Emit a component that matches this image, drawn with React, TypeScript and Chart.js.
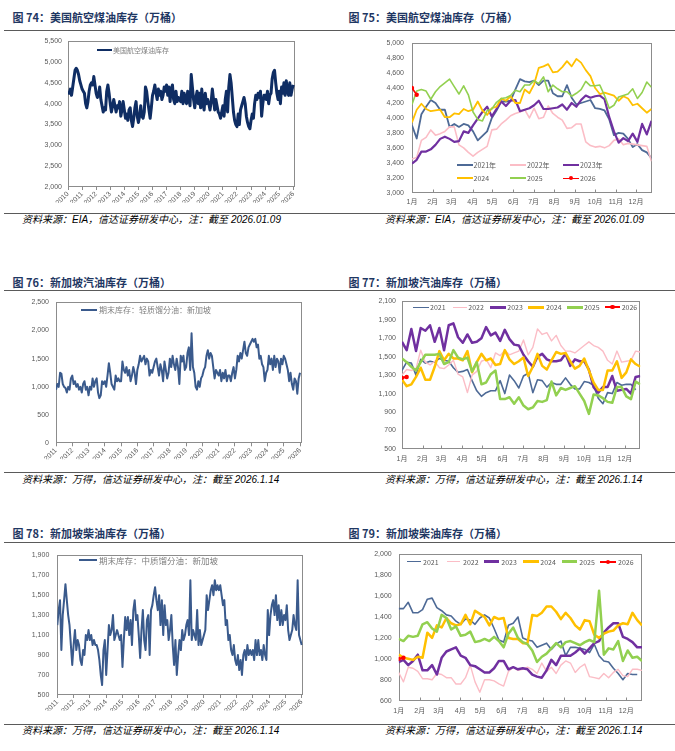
import React, { useEffect, useRef } from 'react';
import { Chart, registerables } from 'chart.js';

Chart.register(...registerables);

const SANS = '"Liberation Sans", Arial, "Noto Sans CJK SC", sans-serif';
const CJK = '"Noto Sans CJK SC", "Liberation Sans", sans-serif';
const TICK_COLOR = '#595959';
const FRAME_COLOR = '#8c8c8c';

// ---------------- tick labels ----------------
const yearTicksJet = [2010, 2011, 2012, 2013, 2014, 2015, 2016, 2017, 2018, 2019, 2020, 2021, 2022, 2023, 2024, 2025, 2026];
const yearTicksSg = [2011, 2012, 2013, 2014, 2015, 2016, 2017, 2018, 2019, 2020, 2021, 2022, 2023, 2024, 2025, 2026];
const monthLabels = ['1月', '2月', '3月', '4月', '5月', '6月', '7月', '8月', '9月', '10月', '11月', '12月'];
const monthStartWeeks = [0, 4.4, 8.4, 12.9, 17.1, 21.6, 25.9, 30.3, 34.7, 39, 43.4, 47.7];

// ---------------- 图74: 美国航空煤油库存, monthly from 2010-01 ----------------
const jetHistStart = 2010;
const jetHist = [
  4300, 4250, 4350, 4200, 4400, 4600, 4800, 4850, 4800, 4700, 4550, 4450,
  4350, 4300, 4250, 4000, 3900, 4050, 4300, 4450, 4500, 4450, 4650, 4450,
  4250, 4150, 4200, 4400, 4100, 3950, 3800, 3900, 3850, 4300, 4450, 4250,
  4000, 3800, 3950, 4100, 3950, 3800, 3950, 3900, 4050, 3700, 3850, 4050,
  3850, 3650, 3750, 3600, 3850, 3900, 3600, 3450, 3650, 3900, 4050, 3700,
  3550, 3700, 3950, 3700, 3650, 3800, 4400, 4300, 4050, 3850, 3650, 3900,
  4200, 4300, 4450, 4250, 4100, 4350, 4200, 4300, 4100, 4200, 4400, 4300,
  4450, 4200, 4400, 4050, 4350, 4450, 4100, 4000, 4300, 4050, 4150, 4100,
  4050, 4300, 4000, 4250, 4100, 4000, 4300, 4100, 3950, 4700, 4400, 4100,
  3900, 4150, 4300, 4000, 4250, 3900, 4350, 4000, 3850, 4250, 4000, 4100,
  4000, 3850, 4050, 4350, 4100, 3850, 4100, 3950, 3800, 3750, 3650, 3800,
  3950, 3700, 4100, 4300, 3800, 4400, 4700, 4500, 4150, 3800, 3600, 3500,
  3450, 3750, 3500, 3850, 3950, 4050, 4150, 4000, 3700, 3550, 3450, 3400,
  3600, 3750, 3650, 4000, 4200, 4100, 4250, 4150, 4300, 3700, 4000, 4200,
  4200, 4100, 4300, 4000, 4200, 4250, 4600, 4750, 4800, 4500, 4250, 4100,
  4300, 4000, 4400, 4250, 4500, 4200, 4550, 4300, 4200, 4500, 4200, 4350,
  4450,
];

// ---------------- 图75: 美国航空煤油库存 seasonal (weekly) ----------------
const jet2021 = [3900, 3725, 4050, 4150, 4240, 4200, 4110, 4110, 3880, 3920, 3880, 3920, 3900, 3820, 3700, 3760, 3820, 4000, 4100, 4220, 4220, 4230, 4380, 4520, 4490, 4480, 4500, 4440, 4500, 4500, 4330, 4290, 4290, 4440, 4270, 4180, 4200, 4220, 4240, 4130, 4120, 4100, 3980, 3770, 3800, 3790, 3720, 3610, 3650, 3570, 3540, 3460];
const jet2022 = [3450, 3470, 3700, 3740, 3840, 3770, 3790, 3820, 3880, 3880, 3640, 3600, 3540, 3490, 3540, 3580, 3620, 3840, 3850, 3920, 3970, 4030, 4060, 4080, 4110, 4000, 4130, 3990, 4010, 4160, 4060, 4010, 3970, 3860, 3870, 3920, 3920, 3680, 3630, 3610, 3620, 3600, 3630, 3700, 3720, 3640, 3660, 3650, 3640, 3630, 3620, 3420];
const jet2023 = [3390, 3440, 3550, 3550, 3580, 3640, 3720, 3750, 3720, 3680, 3690, 3820, 3800, 3900, 3990, 4080, 4150, 4020, 4120, 4220, 4160, 4230, 4240, 4090, 4110, 4130, 4170, 4230, 4120, 4120, 4130, 4140, 4180, 4110, 4200, 4150, 4240, 4300, 4270, 4290, 4300, 4250, 4010, 3820, 3670, 3730, 3690, 3790, 3680, 3920, 3780, 3960];
const jet2024 = [3940, 4110, 4190, 4120, 4090, 4100, 4110, 4010, 4010, 4060, 4050, 4120, 4090, 4110, 4220, 4100, 4040, 4130, 4150, 4260, 4230, 4290, 4200, 4200, 4380, 4330, 4450, 4670, 4690, 4720, 4610, 4620, 4680, 4760, 4690, 4790, 4740, 4640, 4560, 4400, 4320, 4340, 4320, 4300, 4230, 4290, 4260, 4170, 4190, 4130, 4070, 4120];
const jet2025 = [4180, 4360, 4380, 4360, 4250, 4350, 4420, 4470, 4520, 4420, 4320, 4430, 4310, 4080, 3980, 3960, 4100, 4120, 4210, 4260, 4270, 4300, 4370, 4350, 4440, 4440, 4500, 4460, 4550, 4350, 4440, 4390, 4350, 4350, 4290, 4330, 4380, 4490, 4430, 4430, 4440, 4300, 4130, 4170, 4280, 4300, 4320, 4390, 4260, 4340, 4480, 4410];
const jet2026 = [4400, 4310];

// ---------------- 图76: 新加坡汽油库存, monthly from 2011-01 ----------------
const gasHistStart = 2011;
const gasHist = [
  950, 1050, 1000, 1250, 1230, 1050, 1000, 980, 900, 1000, 950, 1150,
  1200, 1050, 1100, 1000, 1050, 950, 1000, 900, 1050, 1100, 950, 1000,
  850, 1000, 950, 1150, 1000, 1100, 1150, 900, 800, 850, 1100, 1050,
  1100, 1000, 1200, 1420, 1250, 1050, 1000, 950, 1200, 1100, 1150, 1100,
  1100, 1450, 1300, 1250, 1350, 1200, 1300, 1100, 1200, 1350, 1250, 1050,
  1300, 1400, 1550, 1450, 1500, 1550, 1400, 1500, 1450, 1200, 1300, 1250,
  1350, 1450, 1500, 1350, 1200, 1400, 1300, 1100, 1450, 1300, 1150, 1250,
  1500, 1350, 1550, 1400, 1300, 1500, 1350, 1050, 1550, 1450, 1550, 1300,
  1350, 1600, 1700, 1300, 1950, 1350, 1250, 1000, 950, 1100, 1000, 1150,
  1200, 1300, 1350, 1550, 1650, 1500, 1600, 1550, 1350, 1150, 1300, 1250,
  1200, 1300, 1100, 1250, 1150, 1300, 1100, 1200, 1200, 1100, 1250, 1350,
  1150, 1300, 1550, 1450, 1600, 1500, 1650, 1800, 1600, 1550, 1700, 1750,
  1800, 1850, 1800, 1850, 1700, 1750, 1500, 1550, 1400, 1350, 1100, 1250,
  1300, 1550, 1400, 1500, 1300, 1550, 1350, 1500, 1450, 1250, 1500, 1400,
  1550, 1500, 1400, 1300, 1100, 1250, 1050, 950, 1150, 1100, 880, 1150,
  1250,
];

// ---------------- 图77: 新加坡汽油库存 seasonal (weekly) ----------------
const gas2021 = [1350, 1440, 1430, 1300, 1470, 1430, 1450, 1440, 1480, 1460, 1450, 1380, 1330, 1340, 1360, 1240, 1130, 1070, 1110, 1130, 1130, 1240, 1100, 1300, 1240, 1160, 1290, 1320, 1110, 1250, 1240, 1170, 1220, 1200, 1200, 1270, 1200, 1150, 1150, 1230, 1220, 1190, 1050, 990, 1110, 1100, 1220, 1190, 1200, 1200, 1140, null];
const gas2022 = [1300, 1360, 1350, 1370, 1570, 1440, 1410, 1450, 1380, 1370, 1410, 1460, 1310, 1280, 1110, 1300, 1340, 1450, 1470, 1380, 1540, 1510, 1570, 1520, 1540, 1560, 1680, 1520, 1600, 1800, 1740, 1760, 1670, 1730, 1620, 1560, 1560, 1540, 1580, 1620, 1660, 1620, 1600, 1560, 1460, 1420, 1560, 1440, 1450, 1460, 1560, 1550];
const gas2023 = [1660, 1570, 1800, 1560, 1810, 1780, 1840, 1660, 1810, 1570, 1840, 1860, 1710, 1650, 1740, 1650, 1660, 1700, 1820, 1730, 1760, 1670, 1790, 1690, 1630, 1620, 1520, 1450, 1390, 1500, 1530, 1470, 1450, 1450, 1460, 1530, 1400, 1470, 1450, 1450, 1360, 1170, 1110, 1170, 1170, 1290, 1130, 1140, 1150, 1100, 1280, 1290];
const gas2024 = [1250, 1180, 1200, 1280, 1380, 1250, 1250, 1390, 1560, 1460, 1530, 1480, 1480, 1460, 1560, 1330, 1440, 1530, 1460, 1480, 1410, 1420, 1570, 1470, 1420, 1450, 1490, 1290, 1390, 1530, 1400, 1360, 1460, 1550, 1530, 1540, 1450, 1370, 1400, 1480, 1350, 1220, 1140, 1140, 1350, 1350, 1450, 1270, 1330, 1470, 1420, 1390];
const gas2025 = [1480, 1440, 1390, 1350, 1440, 1520, 1520, 1520, 1530, 1420, 1440, 1570, 1490, 1470, 1490, 1340, 1440, 1200, 1220, 1310, 1350, 1040, 1040, 1060, 990, 1060, 970, 930, 950, 1020, 1010, 1030, 1230, 1080, 1160, 1140, 1160, 1180, 1100, 1020, 880, 1090, 1080, 1050, 1010, 1000, 1170, 1170, 1070, 1040, 1230, 1200];
const gas2026 = [1270, 1280];

// ---------------- 图78: 新加坡柴油库存, monthly from 2011-01 ----------------
const dslHistStart = 2011;
const dslHist = [
  1200, 1350, 1450, 950, 1300, 1450, 1610, 1450, 1300, 1200, 1000, 800,
  1000, 1150, 950, 1050, 1000, 850, 800, 950, 900, 1100, 1050, 1150,
  1050, 1100, 1000, 1050, 1000, 1000, 950, 850, 700, 600, 950, 1050,
  700, 950, 1200, 1100, 1150, 1300, 1050, 1100, 1150, 1100, 1050, 1100,
  780, 1050, 1280, 1150, 1280, 1100, 1250, 1000, 1350, 1450, 1250, 1300,
  1100, 870, 1150, 1350, 1050, 950, 1250, 1300, 900, 1350, 1400, 1500,
  1580, 1450, 1350, 1500, 1200, 1450, 1100, 1400, 1200, 1250, 1050, 1150,
  1300, 1000, 800, 1050, 700, 900, 1050, 950, 1150, 1050, 1100, 1200,
  1250, 1100, 1650, 1050, 1150, 1100, 1050, 1350, 1000, 1150, 1000, 1050,
  1100, 1150, 1500, 1350, 1450, 1550, 1600, 1500, 1650, 1550, 1600, 1550,
  1600, 1500, 1400, 1450, 1200, 1250, 1050, 1100, 950, 900, 1000, 850,
  800, 900, 750, 850, 700, 900, 950, 850, 1000, 900, 950, 900,
  950, 850, 1050, 900, 1050, 900, 950, 850, 1000, 900, 850, 1350,
  1100, 1300, 1400, 1450, 1300, 1500, 1250, 1400, 1200, 1350, 1200, 1300,
  1250, 1400, 1150, 1050, 1100, 1150, 1300, 1200, 1150, 1650, 1100, 1050,
  1000,
];

// ---------------- 图79: 新加坡柴油库存 seasonal (weekly) ----------------
const dsl2021 = [1480, 1480, 1540, 1440, 1440, 1470, 1570, 1580, 1490, 1460, 1420, 1410, 1360, 1330, 1380, 1370, 1330, 1390, 1420, 1390, 1290, 1180, 1160, 1320, 1340, 1400, 1200, 1180, 1170, 1110, 1130, 1150, 1090, 1140, 1170, 1030, 1110, 1110, 1100, 1090, 1060, 1140, 1030, 980, 970, 910, 860, 800, 860, 850, 850, null];
const dsl2022 = [870, 780, 920, 910, 880, 810, 810, 800, 860, 850, 820, 820, 760, 760, 820, 940, 780, 680, 800, 800, 790, 760, 740, 880, 920, 890, 900, 920, 900, 860, 960, 880, 920, 860, 940, 980, 960, 870, 920, 950, 830, 820, 810, 860, 820, 870, 900, 840, 830, 900, 900, 890];
const dsl2023 = [970, 990, 940, 980, 1040, 890, 890, 940, 850, 1010, 1070, 1090, 1110, 1030, 1010, 940, 930, 900, 870, 870, 910, 980, 980, 900, 920, 900, 910, 900, 850, 830, 820, 890, 990, 940, 1030, 1030, 1030, 1060, 1100, 1050, 1100, 1150, 1170, 1250, 1300, 1340, 1340, 1210, 1190, 1160, 1110, 1110];
const dsl2024 = [1040, 1010, 1000, 990, 1020, 1010, 1250, 1200, 1320, 1300, 1390, 1340, 1320, 1330, 1420, 1330, 1460, 1430, 1400, 1320, 1400, 1380, 1390, 1200, 1190, 1190, 1150, 1150, 1420, 1410, 1440, 1500, 1500, 1450, 1380, 1440, 1390, 1320, 1280, 1370, 1360, 1230, 1200, 1240, 1260, 1270, 1320, 1340, 1330, 1440, 1370, 1320];
const dsl2025 = [1190, 1170, 1220, 1210, 1220, 1330, 1350, 1290, 1260, 1420, 1390, 1280, 1310, 1220, 1230, 1260, 1160, 1170, 1190, 1170, 1210, 1170, 1110, 1240, 1300, 1200, 1160, 1140, 1080, 970, 1020, 1050, 1100, 1150, 1110, 1160, 1170, 1150, 1130, 1160, 1180, 1160, 1650, 1040, 1100, 1090, 1170, 980, 1080, 1010, 1020, 980];
const dsl2026 = [1000, 1010];

// ---------------- styles ----------------
const C2021 = '#4E6A96';
const C2022 = '#FBBDC6';
const C2023 = '#7030A0';
const C2024 = '#FFC000';
const C2025 = '#92D050';
const C2026 = '#FF0000';
const JET_LINE = '#0F2D63';
const SG_LINE = '#3A5A8C';

const weekly = (vals: (number | null)[]) => vals.map((v, i) => ({ x: i, y: v }));
const monthly = (vals: number[], start: number) => vals.map((v, i) => ({ x: start + i / 12, y: v }));

function seasonalSets(series: (number | null)[][], widths: number[]) {
  const colors = [C2021, C2022, C2023, C2024, C2025, C2026];
  return series.map((s, i) => ({
    data: weekly(s),
    borderColor: colors[i],
    backgroundColor: colors[i],
    borderWidth: widths[i],
    pointRadius: i === 5 ? 2.2 : 0,
    pointBorderWidth: 0,
    pointBackgroundColor: colors[i],
    order: 6 - i,
    spanGaps: false,
  }));
}

const framePlugin = {
  id: 'frame',
  beforeDatasetsDraw(chart: any, _args: any, opts: any) {
    const { ctx, chartArea: a } = chart;
    ctx.save();
    ctx.strokeStyle = opts.color || FRAME_COLOR;
    ctx.lineWidth = 1;
    const l = Math.round(a.left) + 0.5;
    const t = Math.round(a.top) + 0.5;
    const r = Math.round(a.right) - 0.5;
    const b = Math.round(a.bottom) - 0.5;
    ctx.strokeRect(l, t, r - l, b - t);
    const marks: number[] = opts.innerTicks || [];
    if (marks.length) {
      ctx.beginPath();
      marks.forEach((v) => {
        const px = Math.round(chart.scales.x.getPixelForValue(v)) + 0.5;
        ctx.moveTo(px, b);
        ctx.lineTo(px, b - 3);
      });
      ctx.stroke();
    }
    ctx.restore();
  },
};

type Spec = {
  box: number[];
  plot: number[];
  xMin: number;
  xMax: number;
  xTicks: number[];
  xLabels: string[];
  rotated: boolean;
  xPad: number;
  yMin: number;
  yMax: number;
  yStep: number;
  yPad: number;
  innerTicks?: number[];
  datasets: any[];
};

function makeConfig(s: Spec): any {
  const [cx, cy, cw, ch] = s.box;
  const [pl, pt, pr, pb] = s.plot;
  const YW = 36;
  const XH = 16;
  return {
    type: 'line',
    data: { datasets: s.datasets },
    options: {
      animation: false,
      responsive: false,
      maintainAspectRatio: false,
      layout: { padding: { left: pl - cx - YW, top: pt - cy, right: cx + cw - pr, bottom: cy + ch - pb - XH } },
      plugins: {
        legend: { display: false },
        tooltip: { enabled: false },
        frame: { color: FRAME_COLOR, innerTicks: s.innerTicks || [] },
      },
      elements: { line: { tension: 0, borderCapStyle: 'butt', borderJoinStyle: 'round' }, point: { radius: 0 } },
      scales: {
        x: {
          type: 'linear',
          min: s.xMin,
          max: s.xMax,
          afterFit: (sc: any) => { sc.height = XH; },
          afterBuildTicks: (sc: any) => { sc.ticks = s.xTicks.map((v) => ({ value: v })); },
          ticks: {
            autoSkip: false,
            maxRotation: s.rotated ? 45 : 0,
            minRotation: s.rotated ? 45 : 0,
            padding: s.xPad,
            color: TICK_COLOR,
            font: { family: SANS, size: 7 },
            callback: (_v: any, i: number) => s.xLabels[i],
          },
          grid: s.rotated
            ? { display: true, drawOnChartArea: false, drawTicks: true, tickLength: 3, color: FRAME_COLOR }
            : { display: false, drawTicks: false },
          border: { display: false },
        },
        y: {
          type: 'linear',
          min: s.yMin,
          max: s.yMax,
          afterFit: (sc: any) => { sc.width = YW; },
          ticks: {
            stepSize: s.yStep,
            padding: s.yPad,
            color: TICK_COLOR,
            font: { family: SANS, size: 7 },
            callback: (v: any) => Number(v).toLocaleString('en-US'),
          },
          grid: { display: false, drawTicks: false },
          border: { display: false },
        },
      },
    },
    plugins: [framePlugin],
  };
}

const specs: Spec[] = [
  {
    box: [0, 31, 337, 181], plot: [68, 41, 295, 187],
    xMin: 2010, xMax: 2026.12, xTicks: yearTicksJet, xLabels: yearTicksJet.map(String), rotated: true, xPad: 0,
    yMin: 2000, yMax: 5500, yStep: 500, yPad: 6,
    datasets: [{ data: monthly(jetHist, jetHistStart), borderColor: JET_LINE, borderWidth: 3, pointRadius: 0 }],
  },
  {
    box: [337, 31, 338, 181], plot: [412, 38.3, 651.5, 192.7],
    xMin: 0, xMax: 51, xTicks: monthStartWeeks, xLabels: monthLabels, rotated: false, xPad: 5,
    yMin: 3000, yMax: 5000, yStep: 200, yPad: 8, innerTicks: monthStartWeeks.slice(1),
    datasets: seasonalSets([jet2021, jet2022, jet2023, jet2024, jet2025, jet2026], [1.8, 1.6, 2.2, 1.8, 1.6, 1.6]),
  },
  {
    box: [0, 291, 337, 181], plot: [56, 300.7, 302.3, 443.3],
    xMin: 2011, xMax: 2026.14, xTicks: yearTicksSg, xLabels: yearTicksSg.map(String), rotated: true, xPad: 0,
    yMin: 0, yMax: 2500, yStep: 500, yPad: 7,
    datasets: [{ data: monthly(gasHist, gasHistStart), borderColor: SG_LINE, borderWidth: 2, pointRadius: 0 }],
  },
  {
    box: [337, 291, 338, 181], plot: [402, 300.7, 640.3, 449],
    xMin: 0, xMax: 51, xTicks: monthStartWeeks, xLabels: monthLabels, rotated: false, xPad: 6,
    yMin: 500, yMax: 2100, yStep: 200, yPad: 6, innerTicks: monthStartWeeks.slice(1),
    datasets: seasonalSets([gas2021, gas2022, gas2023, gas2024, gas2025, gas2026], [1.6, 1.4, 2.5, 2.5, 2.5, 2.2]),
  },
  {
    box: [0, 543, 337, 181], plot: [57.3, 549.3, 302.7, 695],
    xMin: 2011, xMax: 2026.06, xTicks: yearTicksSg, xLabels: yearTicksSg.map(String), rotated: true, xPad: 0,
    yMin: 500, yMax: 1900, yStep: 200, yPad: 8,
    datasets: [{ data: monthly(dslHist, dslHistStart), borderColor: SG_LINE, borderWidth: 2, pointRadius: 0 }],
  },
  {
    box: [337, 543, 338, 181], plot: [398.7, 552.3, 642, 700.7],
    xMin: 0, xMax: 51, xTicks: monthStartWeeks, xLabels: monthLabels, rotated: false, xPad: 6,
    yMin: 600, yMax: 2000, yStep: 200, yPad: 7, innerTicks: monthStartWeeks.slice(1),
    datasets: seasonalSets([dsl2021, dsl2022, dsl2023, dsl2024, dsl2025, dsl2026], [1.6, 1.4, 2.5, 2.5, 2.5, 2.2]),
  },
];

function ChartCanvas({ spec }: { spec: Spec }) {
  const ref = useRef<HTMLCanvasElement | null>(null);
  useEffect(() => {
    if (!ref.current) return;
    const chart = new Chart(ref.current, makeConfig(spec));
    return () => chart.destroy();
  }, [spec]);
  const [x, y, w, h] = spec.box;
  return (
    <canvas
      ref={ref}
      width={w}
      height={h}
      style={{ position: 'absolute', left: x, top: y, width: w, height: h }}
    />
  );
}

type LegendItem = { label: string; color: string; x: number; y: number; w: number; thick: number; tx: number; size: number; textColor: string; marker?: boolean };

function Legend({ it }: { it: LegendItem }) {
  return (
    <>
      <div style={{ position: 'absolute', left: it.x, top: it.y - it.thick / 2, width: it.w, height: it.thick, background: it.color }} />
      {it.marker ? (
        <div style={{ position: 'absolute', left: it.x + it.w / 2 - 2.2, top: it.y - 2.2, width: 4.4, height: 4.4, borderRadius: '50%', background: it.color }} />
      ) : null}
      <div style={{ position: 'absolute', left: it.tx, top: it.y - 7, height: 14, lineHeight: '14px', fontSize: it.size, color: it.textColor, fontFamily: CJK, whiteSpace: 'nowrap' }}>
        {it.label}
      </div>
    </>
  );
}

const TITLE_COLOR = '#1F3763';

export default function App() {
  const titles = [
    { t: '图 74：美国航空煤油库存（万桶）', x: 12.5, y: 17 },
    { t: '图 75：美国航空煤油库存（万桶）', x: 348.5, y: 17 },
    { t: '图 76：新加坡汽油库存（万桶）', x: 12.5, y: 282 },
    { t: '图 77：新加坡汽油库存（万桶）', x: 348.5, y: 282 },
    { t: '图 78：新加坡柴油库存（万桶）', x: 12.5, y: 533 },
    { t: '图 79：新加坡柴油库存（万桶）', x: 348.5, y: 533 },
  ];
  const srcEia = '资料来源：EIA，信达证券研发中心，注：截至 2026.01.09';
  const srcWind = '资料来源：万得，信达证券研发中心，注：截至 2026.1.14';
  const sources = [
    { t: srcEia, x: 22, y: 220 },
    { t: srcEia, x: 385, y: 220 },
    { t: srcWind, x: 22, y: 480 },
    { t: srcWind, x: 385, y: 480 },
    { t: srcWind, x: 22, y: 731 },
    { t: srcWind, x: 385, y: 731 },
  ];
  const rules = [30, 213, 290, 472, 542, 724];
  const gray = '#7f7f7f';
  const dg = '#595959';
  const legends: LegendItem[] = [
    { label: '美国航空煤油库存', color: JET_LINE, x: 97, y: 50, w: 15, thick: 2.6, tx: 113, size: 7, textColor: gray },
    { label: '期末库存：轻质馏分油：新加坡', color: SG_LINE, x: 81, y: 309.5, w: 16, thick: 2, tx: 99, size: 8, textColor: gray },
    { label: '期末库存：中质馏分油：新加坡', color: SG_LINE, x: 79, y: 559.5, w: 18, thick: 2, tx: 99, size: 8.5, textColor: gray },
    // 图75
    { label: '2021年', color: C2021, x: 456.7, y: 165, w: 16, thick: 1.8, tx: 473.5, size: 7, textColor: dg },
    { label: '2022年', color: C2022, x: 510, y: 165, w: 16, thick: 1.8, tx: 527, size: 7, textColor: dg },
    { label: '2023年', color: C2023, x: 563, y: 165, w: 16, thick: 2.2, tx: 580, size: 7, textColor: dg },
    { label: '2024', color: C2024, x: 456.7, y: 178.3, w: 16, thick: 1.8, tx: 473.5, size: 7, textColor: dg },
    { label: '2025', color: C2025, x: 510, y: 178.3, w: 16, thick: 1.8, tx: 527, size: 7, textColor: dg },
    { label: '2026', color: C2026, x: 563, y: 178.3, w: 16, thick: 1.6, tx: 580, size: 7, textColor: dg, marker: true },
    // 图77
    { label: '2021', color: C2021, x: 413.3, y: 307.3, w: 15.5, thick: 1.6, tx: 430, size: 7, textColor: dg },
    { label: '2022', color: C2022, x: 452.7, y: 307.3, w: 14, thick: 1.6, tx: 468.3, size: 7, textColor: dg },
    { label: '2023', color: C2023, x: 490, y: 307.3, w: 16, thick: 2.5, tx: 507.3, size: 7, textColor: dg },
    { label: '2024', color: C2024, x: 528.3, y: 307.3, w: 15.7, thick: 2.5, tx: 546, size: 7, textColor: dg },
    { label: '2025', color: C2025, x: 566.7, y: 307.3, w: 16, thick: 2.5, tx: 584, size: 7, textColor: dg },
    { label: '2026', color: C2026, x: 605, y: 307.3, w: 15, thick: 2.2, tx: 621.7, size: 7, textColor: dg, marker: true },
    // 图79
    { label: '2021', color: C2021, x: 407, y: 561.7, w: 14, thick: 1.6, tx: 423, size: 7, textColor: dg },
    { label: '2022', color: C2022, x: 447, y: 561.7, w: 13.3, thick: 1.6, tx: 463, size: 7, textColor: dg },
    { label: '2023', color: C2023, x: 484.3, y: 561.7, w: 15, thick: 2.5, tx: 501.3, size: 7, textColor: dg },
    { label: '2024', color: C2024, x: 523, y: 561.7, w: 15.7, thick: 2.5, tx: 540.3, size: 7, textColor: dg },
    { label: '2025', color: C2025, x: 562, y: 561.7, w: 15, thick: 2.5, tx: 579.3, size: 7, textColor: dg },
    { label: '2026', color: C2026, x: 600.3, y: 561.7, w: 16, thick: 2.2, tx: 618, size: 7, textColor: dg, marker: true },
  ];

  return (
    <div style={{ position: 'absolute', left: 0, top: 0, width: 675, height: 751, background: '#ffffff', overflow: 'hidden' }}>
      {specs.map((s, i) => (
        <ChartCanvas key={i} spec={s} />
      ))}
      {rules.map((y, i) => (
        <div key={'r' + i} style={{ position: 'absolute', left: 4, top: y - 0.5, width: 671, height: 1, background: '#5a5a5a' }} />
      ))}
      {titles.map((t, i) => (
        <div
          key={'t' + i}
          style={{ position: 'absolute', left: t.x, top: t.y - 8, height: 16, lineHeight: '16px', fontSize: 11, fontWeight: 700, color: TITLE_COLOR, fontFamily: CJK, whiteSpace: 'nowrap' }}
        >
          {t.t}
        </div>
      ))}
      {sources.map((s, i) => (
        <div
          key={'s' + i}
          style={{ position: 'absolute', left: s.x, top: s.y - 7, height: 14, lineHeight: '14px', fontSize: 10, fontStyle: 'italic', color: '#000', fontFamily: SANS, whiteSpace: 'nowrap' }}
        >
          {s.t}
        </div>
      ))}
      {legends.map((it, i) => (
        <Legend key={'l' + i} it={it} />
      ))}
    </div>
  );
}
